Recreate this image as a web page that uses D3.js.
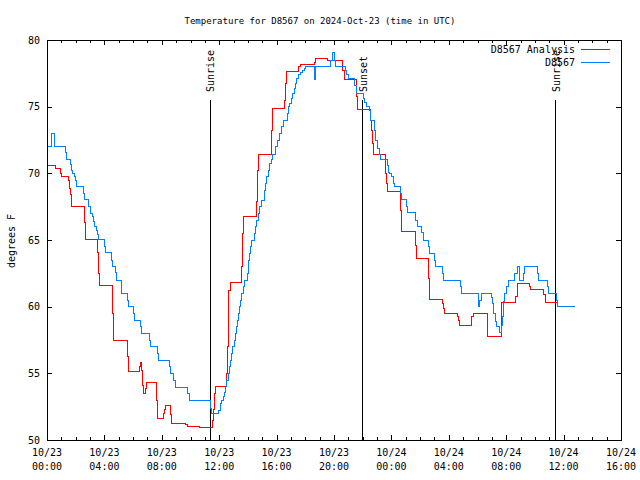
<!DOCTYPE html>
<html>
<head>
<meta charset="utf-8">
<script src="https://cdn.jsdelivr.net/npm/d3@7"></script>
<style>
  html, body { margin: 0; padding: 0; background: #fff; }
  svg { display: block; }
  text { font-family: "DejaVu Sans Mono", "Liberation Mono", monospace; font-size: 10px; fill: #000; }
</style>
</head>
<body>
<svg id="chart" width="640" height="480"></svg>
<script>
// ---------------- DATA ----------------
// hours since 2024-10-23 00:00 UTC
const analysisHours = [0, 0.56, 0.93, 1.02, 1.48, 1.57, 1.65, 1.74, 2.60, 2.67, 3.50, 3.57, 3.64, 4.55, 4.62,
  5.60, 5.67, 6.43, 6.50, 6.57, 6.64, 6.71, 6.88, 6.95, 7.64, 7.71, 8.10, 8.17, 8.24, 8.62, 8.69,
  9.62, 9.78, 10.66, 11.52, 11.59, 11.66, 11.73, 12.52, 12.56, 12.63, 12.68, 12.77, 13.52, 13.61, 13.71,
  14.61, 14.68, 14.75, 15.61, 15.68, 16.54, 16.61, 16.68, 17.56, 17.65, 18.61, 18.70, 19.56, 19.62,
  20.61, 20.70, 21.58, 21.65, 22.53, 22.63, 22.70, 22.77, 23.62, 23.67, 23.71, 24.62, 24.67, 24.69,
  25.67, 25.73, 26.60, 26.64, 27.57, 27.62, 27.69, 28.59, 28.69, 28.78, 29.60, 29.71, 30.68, 31.57,
  31.64, 31.69, 32.68, 32.77, 33.61, 33.71, 34.63, 34.77, 35.56];
const analysisTemps = [70.6, 70.4, 70.0, 69.8, 69.5, 68.9, 68.4, 67.55, 66.3, 65.05, 64.1, 62.5, 61.6, 59.5, 57.45,
  56.3, 55.15, 55.5, 55.8, 55.25, 54.1, 53.5, 53.9, 54.3, 53.0, 51.6, 52.0, 52.3, 52.6, 51.9, 51.25,
  51.15, 51.0, 50.95, 51.5, 52.3, 53.5, 54.0, 55.0, 57.0, 60.5, 61.25, 61.8, 63.0, 65.5, 66.75,
  67.9, 70.25, 71.4, 73.25, 74.9, 75.5, 76.75, 77.65, 78.0, 78.2, 78.35, 78.65, 78.5, 78.5,
  77.75, 77.05, 75.75, 74.8, 74.0, 73.25, 72.25, 71.4, 70.0, 69.25, 68.67, 67.25, 66.4, 65.67,
  64.6, 63.65, 62.1, 60.55, 60.25, 59.9, 59.5, 59.25, 59.0, 58.6, 59.25, 59.5, 57.8, 57.75,
  58.1, 60.3, 60.75, 61.75, 61.5, 61.3, 60.9, 60.3, 60.3];

const obsHours = [0.00, 0.05, 0.33, 0.51, 1.30, 1.37, 1.65, 1.72, 1.81, 1.93, 2.02, 2.09, 2.53, 2.63, 2.91,
  3.00, 3.14, 3.23, 3.32, 3.48, 3.55, 3.62, 4.04, 4.11, 4.46, 4.53, 4.74, 4.83, 5.21, 5.60, 5.69,
  6.01, 6.11, 6.53, 6.60, 7.11, 7.20, 7.69, 7.78, 8.52, 8.62, 8.85, 8.94, 9.80, 9.90, 11.41, 11.48,
  11.94, 12.06, 12.17, 12.33, 12.40, 12.47, 12.54, 12.63, 12.70, 12.77, 12.87, 12.96, 13.05, 13.12,
  13.19, 13.26, 13.33, 13.40, 13.50, 13.57, 13.66, 13.75, 13.94, 14.03, 14.12, 14.19, 14.28, 14.47,
  14.54, 14.63, 14.73, 14.84, 14.93, 15.14, 15.24, 15.33, 15.42, 15.52, 15.61, 15.70, 15.89, 16.08,
  16.20, 16.34, 16.48, 16.76, 16.82, 16.93, 17.05, 17.14, 17.23, 17.33, 17.42, 17.51, 17.65, 17.77,
  17.91, 17.98, 18.63, 18.68, 19.79, 19.90, 20.02, 20.12, 20.77, 20.89, 21.00, 21.46, 21.58, 22.07,
  22.16, 22.25, 22.46, 22.56, 22.81, 22.91, 23.02, 23.14, 23.26, 23.71, 23.78, 23.90, 24.04, 24.13,
  24.23, 24.65, 24.72, 25.02, 25.11, 25.71, 25.80, 26.11, 26.22, 26.60, 26.64, 26.99, 27.08, 27.55,
  27.64, 28.80, 28.87, 30.06, 30.13, 30.29, 30.99, 31.06, 31.10, 31.24, 31.34, 31.52, 31.64, 31.71,
  31.80, 31.85, 32.03, 32.19, 32.56, 32.77, 32.91, 33.19, 33.31, 34.17, 34.24, 34.86, 34.93, 35.52,
  35.59, 36.76];
const obsTemps = [72.75, 72.05, 73.0, 72.05, 71.6, 71.05, 70.7, 70.25, 70.0, 69.75, 69.5, 69.05, 68.5, 68.05, 67.55,
  67.0, 66.75, 66.4, 66.05, 65.75, 65.4, 65.05, 64.5, 64.05, 63.5, 63.05, 62.6, 62.0, 61.0, 60.5, 60.0,
  59.5, 59.0, 58.5, 58.0, 57.5, 57.05, 56.5, 56.0, 55.5, 55.0, 54.5, 53.95, 53.5, 53.0, 52.4, 52.0,
  52.25, 52.75, 53.0, 53.25, 53.6, 54.0, 54.5, 55.0, 55.5, 56.0, 56.5, 57.0, 57.5, 58.0,
  58.5, 59.0, 59.5, 60.0, 60.5, 61.0, 61.5, 62.0, 62.5, 63.5, 64.0, 64.5, 65.0, 65.5,
  66.0, 66.5, 67.0, 67.5, 68.0, 68.75, 69.25, 69.75, 70.25, 70.75, 71.05, 71.4, 72.0, 72.5,
  73.0, 73.5, 74.0, 74.5, 75.0, 75.25, 75.6, 76.0, 76.4, 76.75, 77.1, 77.4, 77.6, 77.75,
  77.9, 78.05, 77.05, 78.05, 78.5, 79.1, 78.5, 78.05, 77.75, 77.45, 77.1, 76.6, 76.0, 75.6,
  75.3, 75.05, 74.75, 74.0, 73.25, 72.5, 71.9, 71.45, 71.05, 70.6, 70.1, 70.0, 69.75, 69.25,
  69.05, 68.5, 68.05, 67.55, 67.05, 66.5, 66.05, 65.55, 65.0, 64.5, 64.0, 63.5, 63.05, 62.5,
  62.0, 61.5, 61.0, 60.05, 60.5, 61.0, 60.7, 60.25, 59.5, 58.9, 58.5, 58.05, 58.6, 59.3,
  60.4, 61.0, 61.5, 62.0, 62.5, 63.0, 62.0, 62.5, 63.0, 62.5, 62.0, 61.5, 61.0, 60.5,
  60.05, 60.05];

const eventNames = ["Sunrise", "Sunset", "Sunrise"];
const eventHours = [11.37, 22.02, 35.45];

const yTickValues = [50, 55, 60, 65, 70, 75, 80];
const seriesNames = ["D8567 Analysis", "D8567"];
const seriesColors = ["#ff0000", "#0080ff"];
const titleText = "Temperature for D8567 on 2024-Oct-23 (time in UTC)";
const yLabelText = "degrees F";

// ---------------- CHART ----------------
const svg = d3.select("#chart");
const M = { left: 47, right: 621, top: 40, bottom: 440 };
const t0 = Date.UTC(2024, 9, 23, 0, 0);
const toDate = h => new Date(t0 + h * 3600e3);

const x = d3.scaleUtc()
  .domain([toDate(0), toDate(40)])
  .range([M.left, M.right]);
const y = d3.scaleLinear().domain([50, 80]).range([M.bottom, M.top]);

// title
svg.append("text").attr("x", 320).attr("y", 23.5).attr("text-anchor", "middle")
  .style("font-size", "9px").text(titleText);

// y label
svg.append("text")
  .attr("transform", "translate(14.5,241) rotate(-90)")
  .attr("text-anchor", "middle").text(yLabelText);

// axes with inward ticks
const majorX = d3.utcHour.every(4).range(toDate(0), toDate(40.01));
const minorX = d3.utcHour.every(1).range(toDate(0), toDate(40.01));

function drawX(pos, withLabels) {
  const axisFn = pos === "bottom" ? d3.axisBottom : d3.axisTop;
  const gy = pos === "bottom" ? M.bottom : M.top;
  const gm = svg.append("g").attr("transform", `translate(0,${gy})`)
    .call(axisFn(x).tickValues(minorX).tickSize(-3).tickFormat(""));
  gm.select(".domain").remove();
  const ga = svg.append("g").attr("transform", `translate(0,${gy})`)
    .call(axisFn(x).tickValues(majorX).tickSize(-5).tickFormat(""));
  ga.select(".domain").remove();
  [gm, ga].forEach(s => s.selectAll("line").attr("stroke", "#000").attr("shape-rendering", "crispEdges"));
  if (withLabels) {
    const fmtD = d3.utcFormat("%m/%d"), fmtT = d3.utcFormat("%H:%M");
    const lab = svg.append("g");
    majorX.forEach(d => {
      const t = lab.append("text").attr("text-anchor", "middle");
      t.append("tspan").attr("x", x(d)).attr("y", 456).text(fmtD(d));
      t.append("tspan").attr("x", x(d)).attr("y", 470).text(fmtT(d));
    });
  }
}
drawX("bottom", true);
drawX("top", false);

const gl = svg.append("g").attr("transform", `translate(${M.left},0)`)
  .call(d3.axisLeft(y).tickValues(yTickValues).tickSize(-5).tickPadding(7));
gl.select(".domain").remove();
gl.selectAll("line").attr("stroke", "#000").attr("shape-rendering", "crispEdges");
gl.selectAll("text").attr("font-family", null).attr("font-size", null).attr("fill", "#000");

const gr = svg.append("g").attr("transform", `translate(${M.right},0)`)
  .call(d3.axisRight(y).tickValues(yTickValues).tickSize(-5).tickFormat(""));
gr.select(".domain").remove();
gr.selectAll("line").attr("stroke", "#000").attr("shape-rendering", "crispEdges");

// event lines
eventHours.forEach((h, i) => {
  const ex = x(toDate(h));
  svg.append("line").attr("x1", ex).attr("x2", ex).attr("y1", 100).attr("y2", M.bottom)
    .attr("stroke", "#000").attr("stroke-width", 1).attr("shape-rendering", "crispEdges");
  svg.append("text")
    .attr("transform", `translate(${ex + 4},92) rotate(-90)`)
    .attr("text-anchor", "start").text(eventNames[i]);
});

// series
const line = d3.line().x(d => x(toDate(d[0]))).y(d => y(d[1])).curve(d3.curveStepAfter);
const analysis = analysisHours.map((h, i) => [h, analysisTemps[i]]);
const obs = obsHours.map((h, i) => [h, obsTemps[i]]);

svg.append("path").datum(analysis).attr("d", line)
  .attr("fill", "none").attr("stroke", seriesColors[0]).attr("stroke-width", 1).attr("shape-rendering", "crispEdges");
svg.append("path").datum(obs).attr("d", line)
  .attr("fill", "none").attr("stroke", seriesColors[1]).attr("stroke-width", 1).attr("shape-rendering", "crispEdges");

// frame
svg.append("rect").attr("x", M.left).attr("y", M.top)
  .attr("width", M.right - M.left).attr("height", M.bottom - M.top)
  .attr("fill", "none").attr("stroke", "#000").attr("shape-rendering", "crispEdges");

// legend
seriesNames.forEach((n, i) => {
  const ly = 49.5 + i * 13;
  svg.append("text").attr("x", 575).attr("y", ly + 3.5).attr("text-anchor", "end").text(n);
  svg.append("line").attr("x1", 581).attr("x2", 610).attr("y1", ly).attr("y2", ly)
    .attr("stroke", seriesColors[i]).attr("stroke-width", 1).attr("shape-rendering", "crispEdges");
});
</script>
</body>
</html>
